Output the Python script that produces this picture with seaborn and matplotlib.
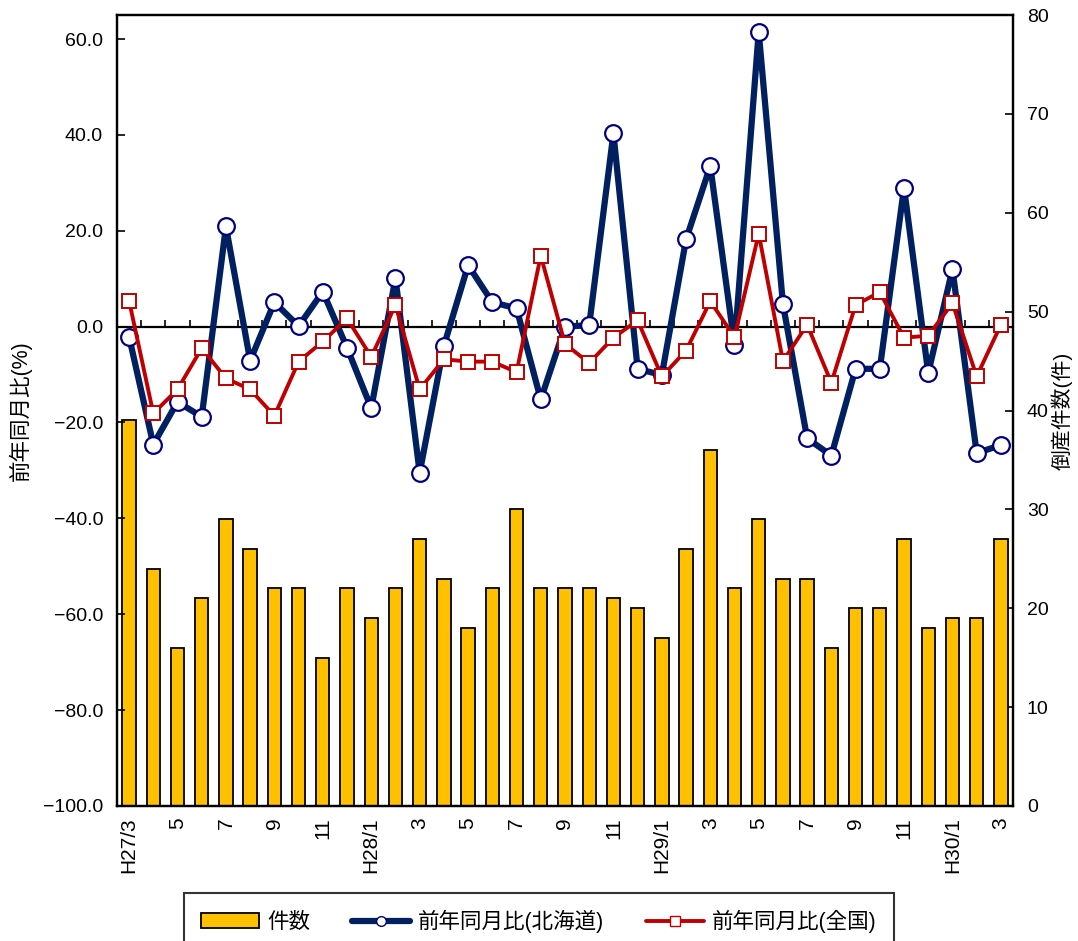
import numpy as np
import pandas as pd
import matplotlib
matplotlib.use("Agg")
import matplotlib.pyplot as plt
import seaborn as sns
from matplotlib.patches import Patch
from matplotlib.lines import Line2D

# 月 (H27/3 - H30/3)
meses = ["H27/3", "4", "5", "6", "7", "8", "9", "10", "11", "12",
         "H28/1", "2", "3", "4", "5", "6", "7", "8", "9", "10", "11", "12",
         "H29/1", "2", "3", "4", "5", "6", "7", "8", "9", "10", "11", "12",
         "H30/1", "2", "3"]

# 倒産件数
kensu = [39, 24, 16, 21, 29, 26, 22, 22, 15, 22,
         19, 22, 27, 23, 18, 22, 30, 22, 22, 22, 21, 20,
         17, 26, 36, 22, 29, 23, 23, 16, 20, 20, 27, 18,
         19, 19, 27]

# 前年同月比 北海道 (%)
hokkaido = [-2.1, -24.6, -15.7, -18.8, 20.9, -7.1, 5.1, 0.1, 7.3, -4.4,
            -17.0, 10.1, -30.5, -4.0, 12.8, 5.1, 3.8, -15.2, 0.0, 0.3, 40.3, -8.8,
            -10.1, 18.2, 33.5, -3.8, 61.5, 4.7, -23.3, -26.9, -8.8, -8.8, 29.0, -9.7,
            12.0, -26.4, -24.7]

# 前年同月比 全国 (%)
zenkoku = [5.4, -18.1, -13.1, -4.5, -10.8, -13.1, -18.6, -7.3, -3.1, 1.7,
           -6.3, 4.5, -13.1, -6.8, -7.3, -7.3, -9.5, 14.8, -3.6, -7.6, -2.3, 1.3,
           -10.4, -5.0, 5.3, -2.2, 19.4, -7.2, 0.4, -11.7, 4.5, 7.2, -2.3, -1.9,
           4.9, -10.4, 0.4]

sns.set_style("white")
plt.rcParams['font.family'] = ['Liberation Sans', 'Noto Sans CJK JP', 'DejaVu Sans']
plt.rcParams['axes.unicode_minus'] = True
for k in ['text.color', 'axes.labelcolor', 'xtick.color', 'ytick.color']:
    plt.rcParams[k] = 'black'

pos = np.arange(len(meses))
df = pd.DataFrame({"pos": pos, "mes": meses, "kensu": kensu,
                   "hokkaido": hokkaido, "zenkoku": zenkoku})

fig = plt.figure(figsize=(10.78, 9.41), dpi=100)
ax = fig.add_axes([0.1085, 0.1435, 0.8312, 0.8405])
ax2 = ax.twinx()

# 件数 (右軸)
sns.barplot(data=df, x="pos", y="kensu", ax=ax2, color="#FFC000",
            edgecolor="black", linewidth=1.3, width=0.55, saturation=1)
ax2.set_ylim(0, 80)
ax2.set_yticks(range(0, 81, 10))
ax2.set_ylabel("倒産件数(件)", fontsize=15, labelpad=2)

# 前年同月比 (左軸)
ax.set_zorder(ax2.get_zorder() + 1)
ax.patch.set_visible(False)
ax.axhline(0, color="black", linewidth=1.6, zorder=1)
ax.vlines(pos[:-1] + 0.5, 0, 1.3, color="black", linewidth=1.2, zorder=1)

sns.lineplot(data=df, x="pos", y="hokkaido", ax=ax, color="#002060",
             linewidth=4.5, marker="o", markersize=12, markerfacecolor="white",
             markeredgecolor="#000080", markeredgewidth=1.6, zorder=3)
sns.lineplot(data=df, x="pos", y="zenkoku", ax=ax, color="#C00000",
             linewidth=2.8, marker="s", markersize=10, markerfacecolor="white",
             markeredgecolor="#C00000", markeredgewidth=1.4, zorder=4)

ax.set_ylim(-100, 65)
ax.set_yticks(range(-100, 61, 20))
ax.yaxis.set_major_formatter(matplotlib.ticker.FuncFormatter(lambda v, p: f"{v:.1f}".replace("-", "\u2212")))
ax.set_ylabel("前年同月比(%)", fontsize=15.5, labelpad=8)
ax.set_xlim(-0.5, len(meses) - 0.5)

etiquetas = [m if i % 2 == 0 else "" for i, m in enumerate(meses)]
ax.set_xticks(pos)
ax.set_xticklabels(etiquetas, rotation=90, fontsize=15)
ax.set_xlabel("")
ax2.set_xlabel("")
ax.tick_params(axis="x", length=0, pad=8)
ax.tick_params(axis="y", direction="in", length=6, width=1.2, labelsize=14, pad=10)
ax2.tick_params(axis="y", direction="in", length=6, width=1.2, labelsize=14, pad=10)
ax2.tick_params(axis="x", length=0)

for a in (ax, ax2):
    for s in a.spines.values():
        s.set_linewidth(1.6)
        s.set_color("black")

handles = [
    Patch(facecolor="#FFC000", edgecolor="black", linewidth=1.3),
    Line2D([], [], color="#002060", linewidth=4.5, marker="o", markersize=7,
           markerfacecolor="white", markeredgecolor="#000080"),
    Line2D([], [], color="#C00000", linewidth=2.8, marker="s", markersize=7,
           markerfacecolor="white", markeredgecolor="#C00000"),
]
leg = fig.legend(handles, ["件数", "前年同月比(北海道)", "前年同月比(全国)"],
                 loc="upper center", bbox_to_anchor=(0.5, 1 - 893 / 941), ncol=3,
                 fontsize=15.5, frameon=True, fancybox=False, handlelength=2.7,
                 borderpad=0.8, borderaxespad=0, columnspacing=1.9, handletextpad=0.4)
leg.get_frame().set_edgecolor("black")
leg.get_frame().set_linewidth(1.5)

fig.savefig("out.png", dpi=100)
